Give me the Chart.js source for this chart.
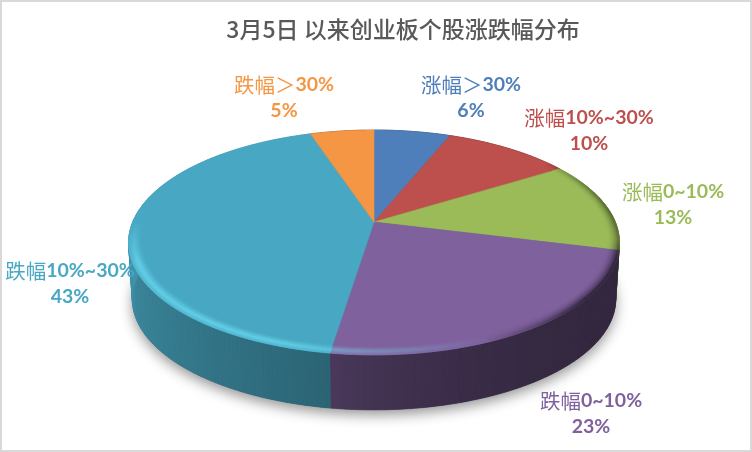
<!DOCTYPE html>
<html><head><meta charset="utf-8">
<script src="https://cdn.jsdelivr.net/npm/chart.js@4"></script>
<style>
html,body{margin:0;padding:0;background:#fff;overflow:hidden}
#frame{position:absolute;left:0;top:0;width:752px;height:452px;box-sizing:border-box;border:2px solid #d9d9d9;background:#fff}
canvas{position:absolute;left:0;top:0}
</style></head><body>
<div id="frame"></div>
<canvas id="c" width="752" height="452"></canvas>
<script>
const titleText = '3月5日 以来创业板个股涨跌幅分布';
const categories = ['涨幅＞30%', '涨幅10%~30%', '涨幅0~10%', '跌幅0~10%', '跌幅10%~30%', '跌幅＞30%'];
const values = [6, 10, 13, 23.4, 42.6, 5];
const colours = ['#4f7fba', '#bd4f4c', '#9bbb59', '#7f619d', '#48a8c3', '#f59645'];
const labelX = [471, 589, 673, 591, 70, 284];
const labelY = [85, 118, 192, 401, 271, 85];

const geo = {cx:374, cy:222, a:241.3, b:108.7, k:-0.182, depth:57, shrink:0.985};
function project(u, v, r, bottom){
  const s = bottom ? geo.shrink : 1;
  const w = 1 + geo.k*v*r;
  return [geo.cx + s*geo.a*u*r/w, geo.cy + (bottom?geo.depth:0) + s*geo.b*v*r/w];
}
function dir(t){return [Math.sin(t), -Math.cos(t)];}
function rgb(hex){return [1,3,5].map(i=>parseInt(hex.substr(i,2),16));}
function css(c){return 'rgb('+c.map(x=>Math.round(Math.max(0,Math.min(255,x)))).join(',')+')';}
function fillPoly(ctx, pts, col){
  ctx.beginPath();
  pts.forEach((p,i)=> i?ctx.lineTo(p[0],p[1]):ctx.moveTo(p[0],p[1]));
  ctx.closePath();
  ctx.fillStyle=col; ctx.strokeStyle=col; ctx.lineWidth=.6;
  ctx.fill(); ctx.stroke();
}
const STEP = Math.PI/180;
function wallShade(i, t, s){
  if(i===4){const x=Math.min(1,(t-s[0])/(80*STEP));return .6+.28*x;}
  if(i===3){const x=(t-s[0])/(s[1]-s[0]);return .40+.18*x*x*x;}
  return .42;
}
const pie3d = {
  id:'pie3d',
  beforeDatasetDraw(chart){
    const ctx = chart.ctx, arcs = chart.getDatasetMeta(0).data;
    const spans = arcs.map(a=>[a.startAngle+Math.PI/2, a.endAngle+Math.PI/2]);
    ctx.save();
    const outline=[];
    for(let t=0;t<2*Math.PI;t+=STEP){const d=dir(t);outline.push(project(d[0],d[1],1,true));}
    ctx.save();
    ctx.shadowColor='rgba(0,0,0,.42)';ctx.shadowBlur=13;ctx.shadowOffsetX=0;ctx.shadowOffsetY=5;
    ctx.beginPath();outline.forEach((p,i)=>i?ctx.lineTo(p[0],p[1]):ctx.moveTo(p[0],p[1]));ctx.closePath();
    ctx.fillStyle='#555';ctx.fill();ctx.restore();
    spans.forEach((s,i)=>{
      const base=rgb(colours[i]);
      for(let t=s[0];t<s[1];t+=STEP){
        const e=Math.min(t+STEP,s[1]),d0=dir(t),d1=dir(e);
        const f=wallShade(i,t,s);
        fillPoly(ctx,[project(d0[0],d0[1],1),project(d1[0],d1[1],1),project(d1[0],d1[1],1,true),project(d0[0],d0[1],1,true)],css(base.map(c=>c*f)));
      }
    });
    spans.forEach((s,i)=>{
      const pts=[project(0,0,1)];
      for(let t=s[0];t<s[1];t+=STEP){const d=dir(t);pts.push(project(d[0],d[1],1));}
      const d=dir(s[1]);pts.push(project(d[0],d[1],1));
      fillPoly(ctx,pts,colours[i]);
    });
    const bands=8, inner=0.95;
    spans.forEach((s,i)=>{
      const base=rgb(colours[i]);
      for(let t=s[0];t<s[1];t+=STEP){
        const e=Math.min(t+STEP,s[1]),d0=dir(t),d1=dir(e);
        let front=Math.max(0,Math.min(1,(d0[1]+.02)/.55));
        if(d0[0]>.8) front=Math.max(front,(d0[0]-.8)*1.6);
        if(front<=0) continue;
        const l=(-d0[0]+d0[1]*.45)*front;
        for(let j=0;j<bands;j++){
          const q=(j+.5)/bands;
          const r0=inner+(1-inner)*j/bands,r1=inner+(1-inner)*(j+1)/bands;
          let col;
          if(l>0){
            const profile=q<.6?q/.6:1-(q-.6)/.4*.65;
            const amt=Math.min(1,l*1.3)*profile*.6;
            col=base.map((c,n)=>c+([120,235,255][n]-c)*amt);
          }else{
            const amt=Math.min(1,-l*1.8+.1)*q*q*.7;
            col=base.map(c=>c*(1-amt));
          }
          fillPoly(ctx,[project(d0[0],d0[1],r0),project(d1[0],d1[1],r0),project(d1[0],d1[1],r1),project(d0[0],d0[1],r1)],css(col));
        }
      }
    });
    ctx.restore();
    return false;
  },
  afterDatasetsDraw(chart){
    const ctx=chart.ctx;
    ctx.save();
    ctx.textBaseline='middle';
    const total=values.reduce((a,b)=>a+b,0);
    function run(text,x,y,col){
      const parts=text.match(/[\u3000-\u9fff\uff00-\uffef]+|[^\u3000-\u9fff\uff00-\uffef]+/g);
      const fontOf=p=>/[\u3000-\u9fff\uff00-\uffef]/.test(p)?'400 20.5px "Noto Sans CJK SC"':'700 19.5px Lato';
      let w=0;parts.forEach(p=>{ctx.font=fontOf(p);w+=ctx.measureText(p).width;});
      let cx=x-w/2;ctx.textAlign='left';ctx.fillStyle=col;
      parts.forEach(p=>{ctx.font=fontOf(p);ctx.fillText(p,cx,y);cx+=ctx.measureText(p).width;});
    }
    categories.forEach((c,i)=>{
      run(c,labelX[i],labelY[i],colours[i]);
      run(Math.round(values[i]/total*100)+'%',labelX[i],labelY[i]+26,colours[i]);
    });
    ctx.restore();
  }
};
new Chart(document.getElementById('c'),{
  type:'pie',
  data:{labels:categories,datasets:[{data:values,backgroundColor:colours,borderWidth:0}]},
  options:{
    responsive:false,animation:false,
    layout:{padding:{top:7,left:54}},
    plugins:{
      legend:{display:false},tooltip:{enabled:false},
      title:{display:true,text:titleText,color:'#595959',padding:{top:8,bottom:10},
        font:{family:'"Noto Sans CJK SC"',size:23,weight:'500'}}
    }
  },
  plugins:[pie3d]
});
</script>
</body></html>
